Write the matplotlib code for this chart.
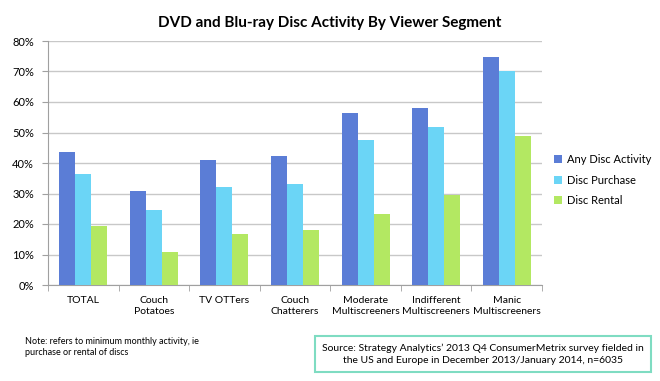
import matplotlib
matplotlib.use('Agg')
import matplotlib.pyplot as plt
import numpy as np

categories = ['TOTAL', 'Couch\nPotatoes', 'TV OTTers', 'Couch\nChatterers',
              'Moderate\nMultiscreeners', 'Indifferent\nMultiscreeners', 'Manic\nMultiscreeners']
any_disc = [43.7, 30.8, 40.9, 42.2, 56.5, 58.0, 74.9]
purchase = [36.4, 24.7, 32.1, 33.1, 47.4, 51.9, 70.1]
rental = [19.3, 10.8, 16.6, 18.0, 23.3, 29.6, 48.9]
series_names = ['Any Disc Activity', 'Disc Purchase', 'Disc Rental']
colors = ['#5B7DD6', '#6BD5F6', '#B3E862']

plt.rcParams['font.family'] = ['Lato', 'DejaVu Sans']

fig = plt.figure(figsize=(6.6, 3.81), dpi=100)
ax = fig.add_axes([48/660, 1-285/381, (542-48)/660, (285-41)/381])

x = np.arange(len(categories))
w = 0.227
for k, (vals, name, c) in enumerate(zip([any_disc, purchase, rental], series_names, colors)):
    ax.bar(x + (k-1)*w, vals, w, color=c, label=name, zorder=3)

ax.set_xlim(-0.5, len(categories)-0.5)
ax.set_ylim(0, 80)
ax.set_yticks(np.arange(0, 81, 10))
ax.set_yticklabels([f'{v}%' for v in range(0, 81, 10)], fontsize=8)
ax.yaxis.grid(True, color='#C8C8C8', linewidth=1, zorder=0)
ax.set_xticks(x)
ax.set_xticklabels(categories, fontsize=7.5, linespacing=1.3)
ax.set_xticks(np.arange(-0.5, len(categories), 1), minor=True)
ax.tick_params(axis='x', which='major', length=0, pad=8)
ax.tick_params(axis='x', which='minor', length=4, color='#A0A0A0')
ax.tick_params(axis='y', length=4, color='#A0A0A0', pad=6)
for s in ['top', 'right']:
    ax.spines[s].set_visible(False)
for s in ['left', 'bottom']:
    ax.spines[s].set_color('#A0A0A0')

ax.legend(loc='center left', bbox_to_anchor=(1.005, 0.43), frameon=False, fontsize=8,
          handlelength=0.7, handleheight=0.7, handletextpad=0.4, labelspacing=0.85)

fig.text(0.5, 1-23/381, 'DVD and Blu-ray Disc Activity By Viewer Segment',
         ha='center', va='center', fontsize=11, fontweight='bold')

fig.text(25/660, 1-347/381, 'Note: refers to minimum monthly activity, ie\npurchase or rental of discs',
         ha='left', va='center', fontsize=6.5, linespacing=1.4)

fig.text(483/660, 1-354/381,
         'Source: Strategy Analytics\u2019 2013 Q4 ConsumerMetrix survey fielded in\n'
         'the US and Europe in December 2013/January 2014, n=6035',
         ha='center', va='center', fontsize=7.5, linespacing=1.4,
         bbox=dict(boxstyle='square,pad=0.7', facecolor='white', edgecolor='#7FDCC2', linewidth=1.5))

fig.savefig('out.png', dpi=100)
